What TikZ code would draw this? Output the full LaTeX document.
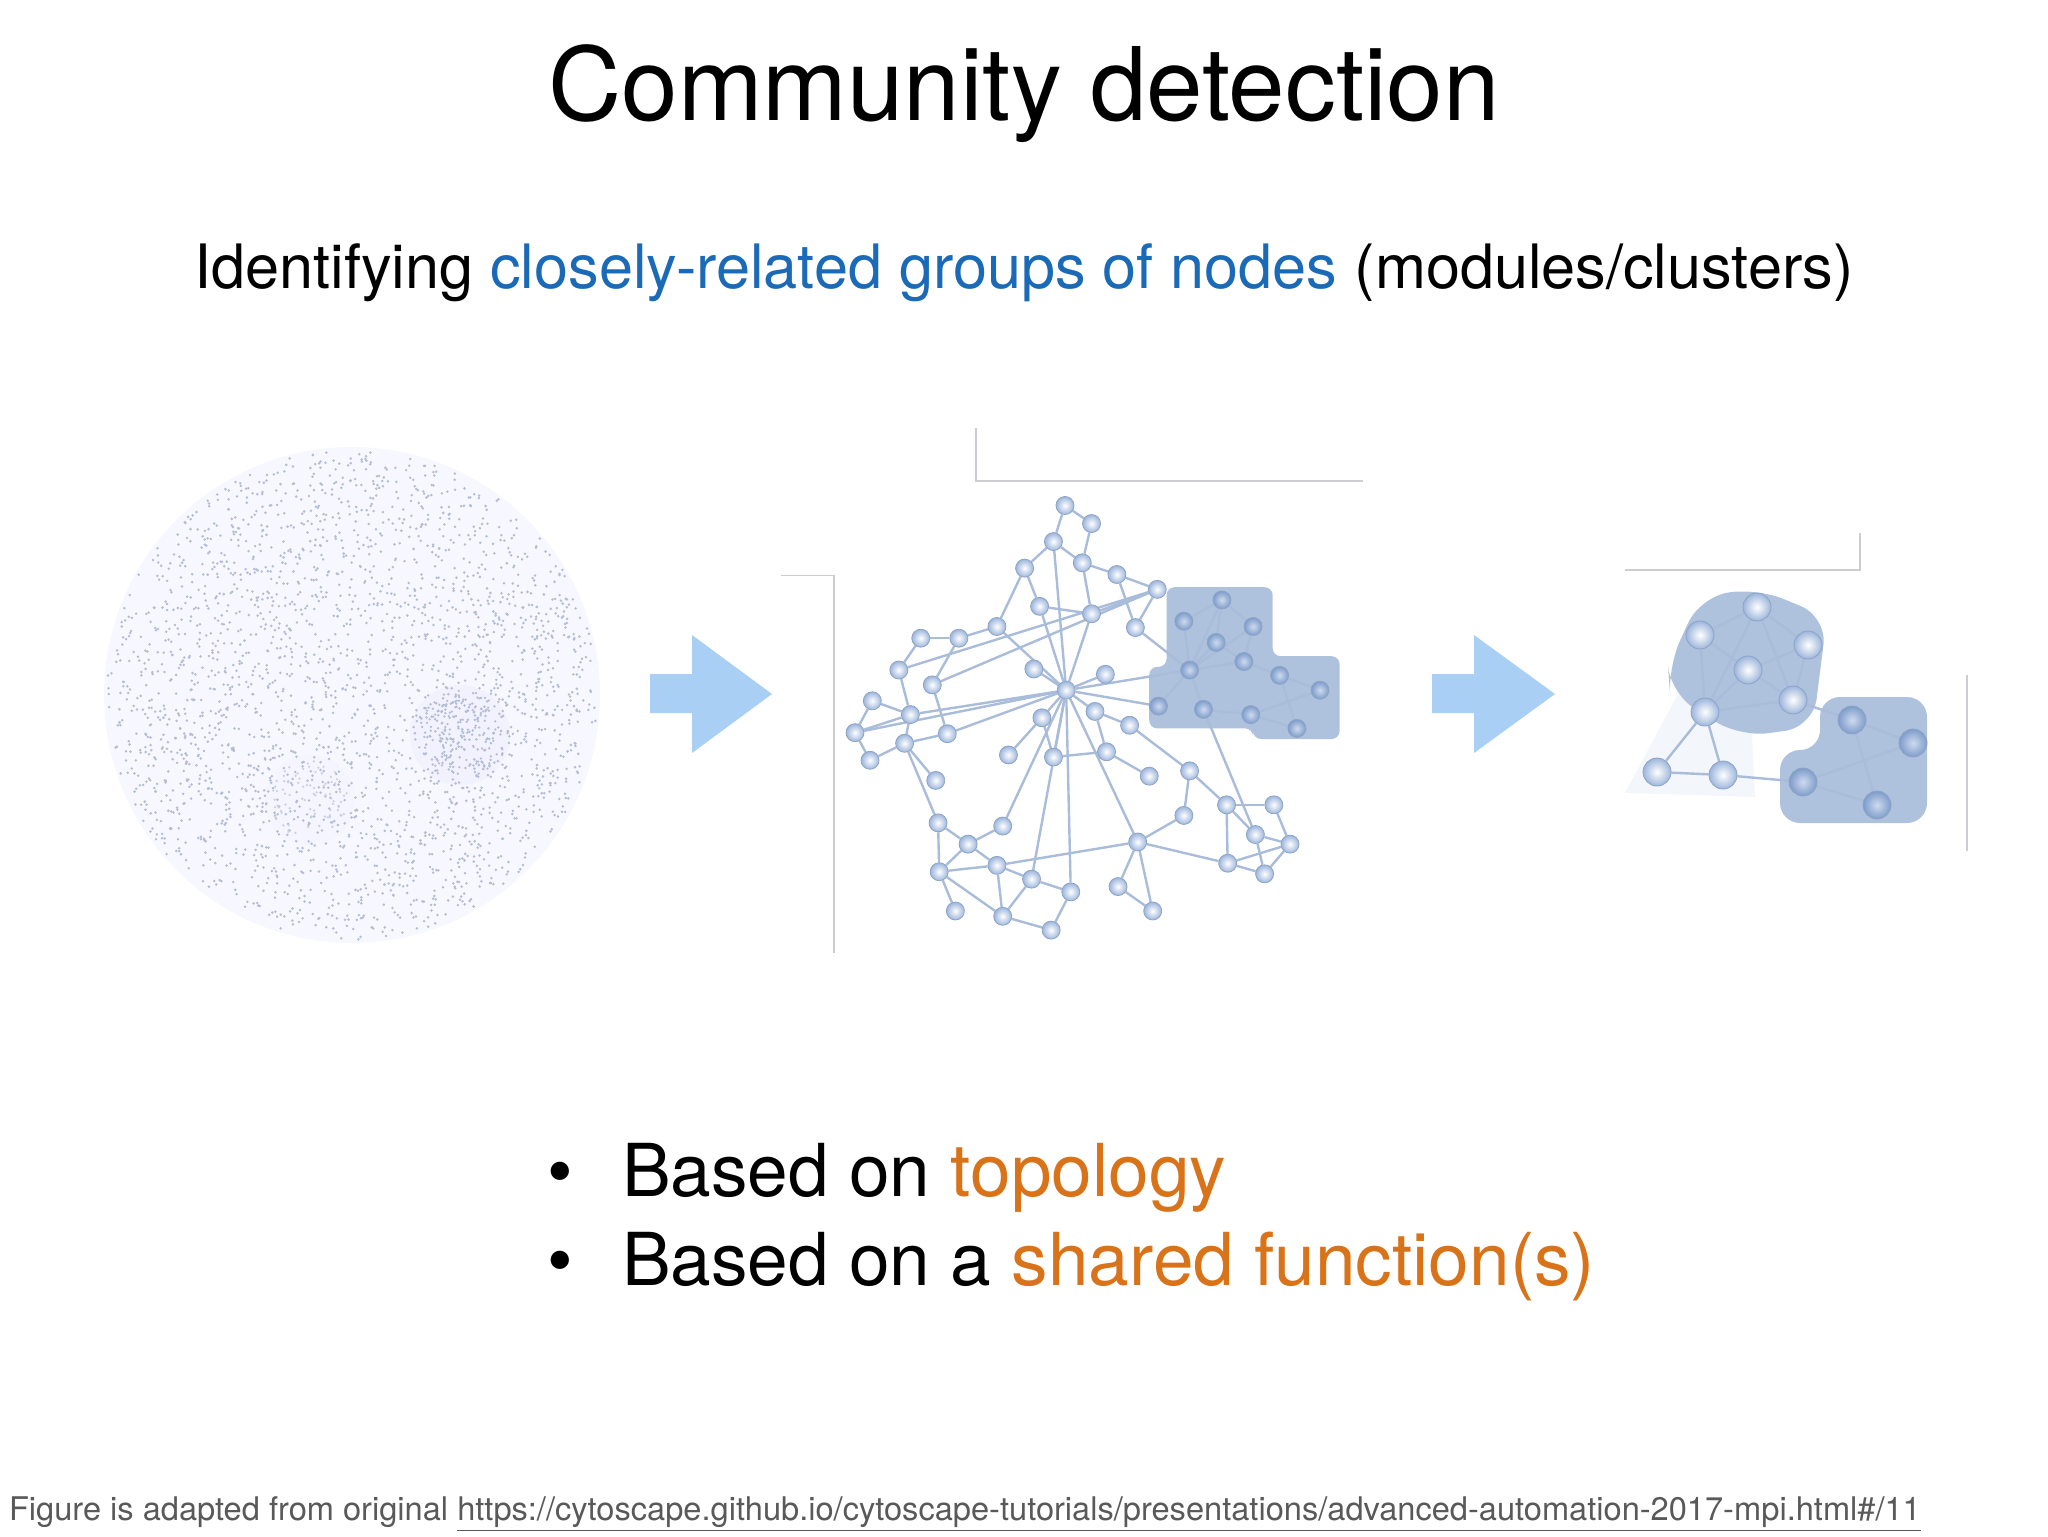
\documentclass[tikz,border=0pt]{standalone}
\usepackage{fontspec}
\setmainfont{TeX Gyre Heros}
\pgfdeclarelayer{blob}\pgfdeclarelayer{bg}\pgfsetlayers{blob,bg,main}
\definecolor{subblue}{HTML}{1A6AB8}
\definecolor{orng}{HTML}{D9731A}
\definecolor{arrowc}{HTML}{A9CFF5}
\definecolor{edgec}{HTML}{A9BCDA}
\definecolor{blobc}{HTML}{AEC2DE}
\definecolor{framec}{HTML}{CCCCD2}
\definecolor{dotc}{HTML}{B4BDD4}
\definecolor{nodeo}{HTML}{9DB6DC}
\definecolor{nodeod}{HTML}{7E9CCB}
\tikzset{
 mb/.style={circle,inner sep=0pt,minimum size=9pt,shading=radial,inner color=white,outer color=nodeo,draw=nodeo!90!black,line width=0.4pt},
 rb/.style={circle,inner sep=0pt,minimum size=14pt,shading=radial,inner color=white,outer color=nodeo,draw=nodeo!90!black,line width=0.4pt},
 mbd/.style={mb,inner color=nodeo!50!white,outer color=nodeod},
 rbd/.style={rb,inner color=nodeo!50!white,outer color=nodeod},
 ed/.style={draw=edgec,line width=1.2pt},
 fr/.style={draw=framec,line width=0.8pt},
 barrow/.style={fill=arrowc,draw=none}
}
\begin{document}
\begin{tikzpicture}[x=0.5pt,y=-0.5pt]
\useasboundingbox (0,0) rectangle (2048,1536);
% texts
\node (title) at (1024,94) {\fontsize{50.8}{56}\selectfont Community detection};
\node (sub) at (1024,273) {\fontsize{30.6}{36}\selectfont Identifying \textcolor{subblue}{closely-related groups of nodes} (modules/clusters)};
\node[anchor=west] (b1) at (540,1178) {\fontsize{36.5}{44}\selectfont \textbullet\hspace{0.4em} Based on \textcolor{orng}{topology}};
\node[anchor=west] (b2) at (540,1266) {\fontsize{36.5}{44}\selectfont \textbullet\hspace{0.4em} Based on a \textcolor{orng}{shared function(s)}};
\node[anchor=west,text=black!65] (foot) at (2,1514) {\fontsize{16.3}{19}\selectfont Figure is adapted from original \underline{https://cytoscape.github.io/cytoscape-tutorials/presentations/advanced-automation-2017-mpi.html\#/11}};
% dot cloud
\fill[blue!3] (352,695) circle[radius=248];
\fill[blue!5] (460,735) circle[radius=50];
\fill[blue!4] (310,800) circle[radius=45];
\pgfmathsetseed{7}
\foreach \i in {1,...,2600}{
 \pgfmathsetmacro\r{245*sqrt(rnd)}\pgfmathsetmacro\a{360*rnd}
 \fill[dotc] ({352+\r*cos(\a)},{695+\r*sin(\a)}) circle[radius=1.4];}
\foreach \i in {1,...,180}{
 \pgfmathsetmacro\r{45*sqrt(rnd)}\pgfmathsetmacro\a{360*rnd}
 \fill[dotc] ({460+\r*cos(\a)},{735+\r*sin(\a)}) circle[radius=1.3];}
\foreach \i in {1,...,80}{
 \pgfmathsetmacro\r{40*sqrt(rnd)}\pgfmathsetmacro\a{360*rnd}
 \fill[dotc!70] ({310+\r*cos(\a)},{800+\r*sin(\a)}) circle[radius=1.3];}
% block arrows
\fill[barrow] (650,674) -- (692,674) -- (692,635) -- (772,694) -- (692,753) -- (692,713) -- (650,713) -- cycle;
\fill[barrow] (1432,674) -- (1474,674) -- (1474,635) -- (1555,694) -- (1474,753) -- (1474,713) -- (1432,713) -- cycle;
\draw[fr] (1625,570) -- (1860,570) -- (1860,533);
\draw[fr] (1967,675) -- (1967,851);
\begin{scope}[shift={(0,505)},yscale=0.92,shift={(0,-521)}]
\begin{scope}[shift={(780,420)},scale=1.1538,shift={(-780,-420)}]
\draw[fr] (781,574) -- (827,574) -- (827,930);
\draw[fr] (950,435) -- (950,485) -- (1285,485);
\begin{pgfonlayer}{blob}
\fill[blobc,rounded corners=4pt] (1115,585) -- (1207,585) -- (1207,650) -- (1265,650) -- (1265,728) -- (1190,728) -- (1190,718) -- (1100,718) -- (1100,660) -- (1115,660) -- cycle;
\end{pgfonlayer}
\foreach \n/\p in {1/{1027,508},2/{1050,525},3/{1017,542},4/{1042,562},5/{992,567},6/{1072,573},7/{1107,587},8/{1005,603},9/{1050,610},10/{1088,623},11/{968,622},12/{935,633},13/{902,633},14/{883,663},15/{912,677},16/{1000,662},17/{1028,682},18/{1062,667},19/{860,692},20/{893,705},21/{845,722},22/{888,732},23/{925,723},24/{858,748},25/{915,767},26/{1007,708},27/{1053,702},28/{1083,715},29/{978,743},30/{1017,745},31/{1063,740},32/{1100,763},33/{1135,758},34/{917,807},35/{973,810},36/{943,827},37/{1130,800},38/{1167,790},39/{1208,790},40/{1090,825},41/{968,847},42/{918,853},43/{998,860},44/{1032,872},45/{1192,818},46/{1222,827},47/{1168,845},48/{1200,855},49/{1073,867},50/{932,890},51/{973,895},52/{1015,908},53/{1103,890}}
 \node[mb] (m\n) at (\p) {};
\foreach \n/\p in {1/{1163,597},2/{1130,617},3/{1190,622},4/{1158,637},5/{1182,655},6/{1135,663},7/{1213,668},8/{1248,682},9/{1108,697},10/{1147,700},11/{1188,705},12/{1228,718}}
 \node[mbd] (c\n) at (\p) {};
\end{scope}
\end{scope}
\begin{pgfonlayer}{bg}
\foreach \a/\b in {m1/m2,m1/m3,m2/m4,m3/m4,m3/m5,m3/m17,m4/m6,m4/m9,m5/m8,m5/m11,m6/m7,m6/m10,m7/m9,m7/m10,m7/m15,m8/m9,m8/m17,m9/m17,m10/c6,m11/m12,m11/m17,m12/m15,m13/m14,m13/m12,m14/m20,m15/m23,m16/m17,m17/m18,m17/m20,m17/m21,m17/m23,m17/c9,m17/c6,m17/m26,m17/m27,m17/m30,m17/m35,m17/m44,m17/m40,m17/m43,m19/m21,m19/m20,m20/m21,m20/m22,m21/m24,m22/m24,m22/m23,m22/m25,m22/m34,m26/m29,m26/m30,m30/m31,m31/m27,m27/m28,m28/m33,m31/m32,m33/m37,m33/m38,m37/m40,m38/m39,m38/m47,m39/m46,m45/m46,m45/m38,m45/m48,m46/m48,m47/m48,m47/m46,m40/m49,m40/m53,m40/m41,m40/m47,m34/m36,m34/m42,m36/m35,m36/m41,m36/m42,m41/m42,m41/m43,m41/m51,m42/m50,m42/m51,m43/m44,m43/m51,m44/m52,m51/m52,m49/m53,c10/m45,c6/c1,c6/c2,c6/c3,c6/c4,c6/c5,c6/c9,c6/c10,c1/c2,c1/c3,c1/c4,c3/c5,c4/c5,c5/c7,c7/c8,c7/c12,c10/c11,c11/c12,c11/c8,m7/m14}
 \draw[ed] (\a) -- (\b);
\end{pgfonlayer}
% right network blobs
\begin{pgfonlayer}{blob}
\fill[white!85!blobc] (1625,793) -- (1680,690) -- (1750,690) -- (1755,797) -- cycle;
\fill[blobc,rounded corners=14pt] (1668,667) -- (1700,597) -- (1757,588) -- (1827,617) -- (1813,727) -- (1740,737) -- (1670,693) -- cycle;
\fill[blobc,rounded corners=10pt] (1780,750) -- (1820,750) -- (1820,697) -- (1927,697) -- (1927,823) -- (1780,823) -- cycle;
\end{pgfonlayer}
\foreach \n/\p in {A/{1757,607},B/{1700,635},C/{1808,645},D/{1748,670},E/{1793,700},F/{1705,712},G/{1657,772},H/{1723,775}}
 \node[rb] (r\n) at (\p) {};
\foreach \n/\p in {I/{1852,720},J/{1913,743},K/{1803,782},L/{1877,805}}
 \node[rbd] (r\n) at (\p) {};
\begin{pgfonlayer}{bg}
\foreach \a/\b in {rA/rB,rA/rC,rA/rF,rA/rE,rB/rF,rB/rD,rC/rD,rC/rE,rD/rE,rD/rF,rF/rE,rF/rG,rF/rH,rG/rH,rH/rK,rE/rI,rI/rJ,rI/rL,rJ/rK,rK/rL}
 \draw[ed] (\a) -- (\b);
\end{pgfonlayer}
\end{tikzpicture}
\end{document}
